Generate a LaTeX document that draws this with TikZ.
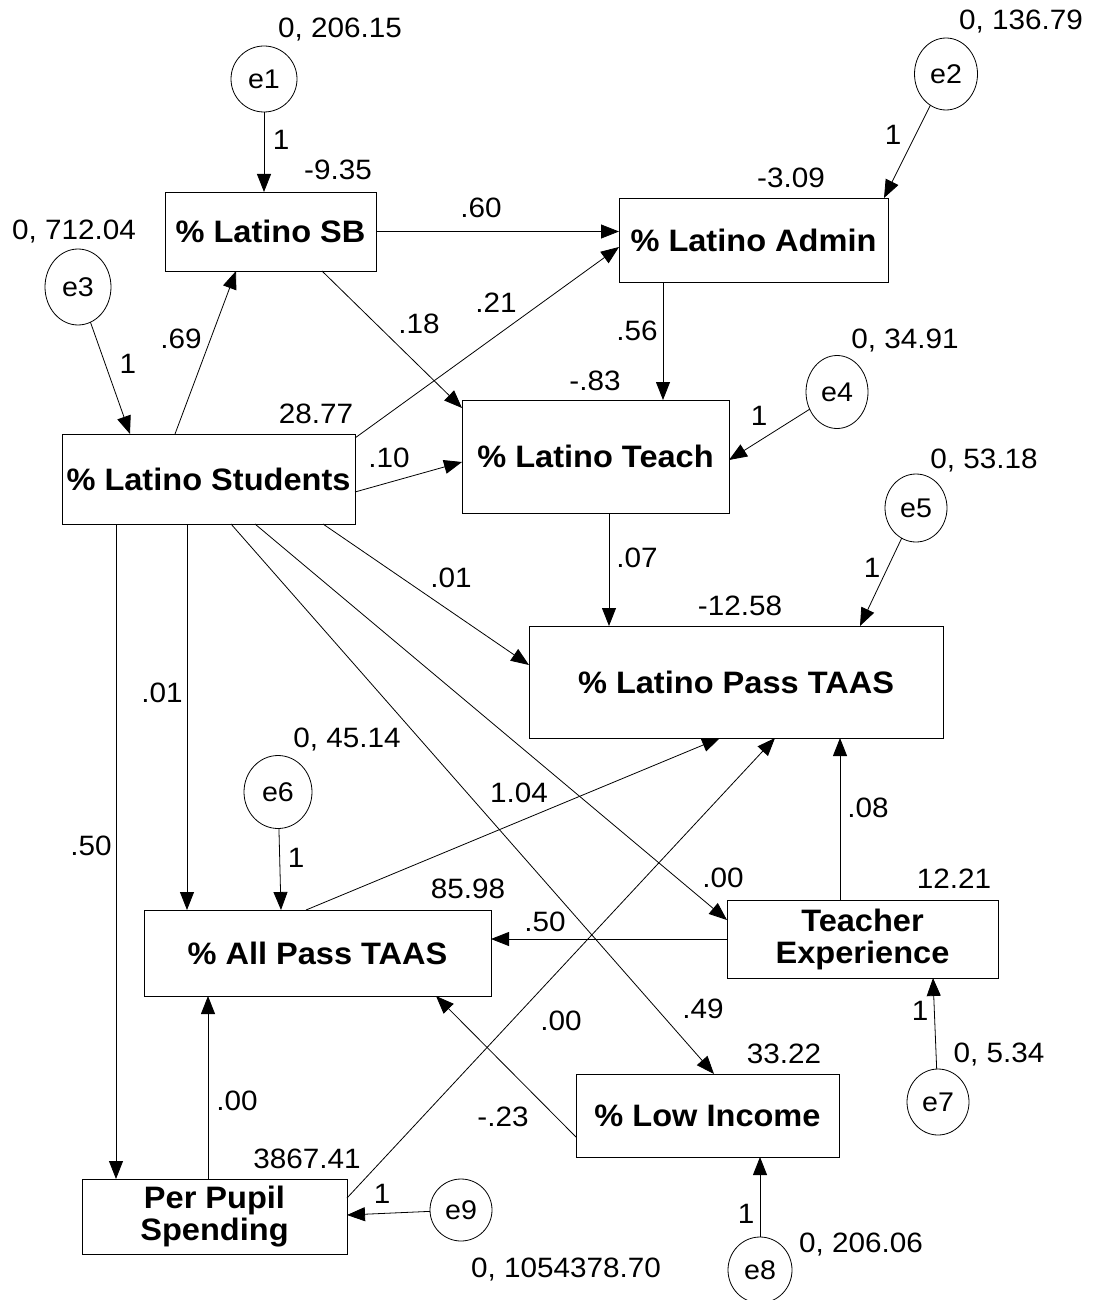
\documentclass[tikz,border=0pt]{standalone}
\usepackage{fontspec}
\setmainfont{Liberation Sans}
\newfontfamily\lblfont[FakeStretch=1.06]{Liberation Sans}
\newfontfamily\boxfont[FakeStretch=1.05]{Liberation Sans}
\usetikzlibrary{arrows.meta,shapes.geometric,calc}
\tikzset{
  box/.style={draw, line width=0.8pt, inner sep=0pt, outer sep=0pt, align=center,
    font=\boxfont\bfseries\fontsize{31}{32}\selectfont},
  err/.style={draw, ellipse, line width=0.8pt, inner sep=0pt, outer sep=0pt,
    font=\lblfont\fontsize{27}{30}\selectfont},
  arr/.style={line width=0.8pt, -{Triangle[length=18pt,width=14pt]}},
  lbl/.style={inner sep=0pt, font=\lblfont\fontsize{28}{30}\selectfont,
    text height=20pt, text depth=0pt},
}
\begin{document}
\begin{tikzpicture}[x=1pt,y=-1pt]
\useasboundingbox (0,0) rectangle (1093,1300);

% boxes
\node[box, minimum width=211pt, minimum height=79pt] (sb) at (270.5,231.5) {\% Latino SB};
\node[box, minimum width=269pt, minimum height=84pt] (admin) at (753.5,240) {\% Latino Admin};
\node[box, minimum width=293pt, minimum height=90pt] (ls) at (208.5,479) {\% Latino Students};
\node[box, minimum width=267pt, minimum height=113pt] (teach) at (595.5,456.5) {\% Latino Teach};
\node[box, minimum width=414pt, minimum height=112pt] (lpt) at (736,682) {\% Latino Pass TAAS};
\node[box, minimum width=347pt, minimum height=86pt] (allp) at (317.5,953) {\% All Pass TAAS};
\node[box, minimum width=271pt, minimum height=78pt] (te) at (862.5,939) {Teacher\\Experience};
\node[box, minimum width=263pt, minimum height=83pt] (li) at (707.5,1115.5) {\% Low Income};
\node[box, minimum width=265pt, minimum height=75pt] (pp) at (214.5,1216.5) {Per Pupil\\Spending};

% error terms
\node[err, minimum width=66pt, minimum height=66pt] (e1) at (264,79) {e1};
\node[err, minimum width=63pt, minimum height=72pt] (e2) at (946,74) {e2};
\node[err, minimum width=66pt, minimum height=76pt] (e3) at (78,287) {e3};
\node[err, minimum width=62pt, minimum height=73pt] (e4) at (837,392) {e4};
\node[err, minimum width=62pt, minimum height=68pt] (e5) at (916,508) {e5};
\node[err, minimum width=68pt, minimum height=73pt] (e6) at (278,792) {e6};
\node[err, minimum width=62pt, minimum height=66pt] (e7) at (938,1102) {e7};
\node[err, minimum width=64pt, minimum height=66pt] (e8) at (760,1270) {e8};
\node[err, minimum width=62pt, minimum height=62pt] (e9) at (461,1210) {e9};

% helper coordinates on borders
\coordinate (a1) at ([xshift=99pt]sb.north west);
\coordinate (a2) at ([xshift=-4pt]admin.north east);
\coordinate (a4s) at ([xshift=113pt]ls.north west);
\coordinate (a4e) at ([xshift=71pt]sb.south west);
\coordinate (a5) at ([xshift=68pt]ls.north west);
\coordinate (a6s) at ([xshift=157pt]sb.south west);
\coordinate (a6e) at ([yshift=-8pt]teach.north west);
\coordinate (a7s) at ([yshift=-4pt]ls.north east);
\coordinate (a7e) at ([yshift=-7pt]admin.west);
\coordinate (a8s) at ([yshift=-13pt]ls.east);
\coordinate (a8e) at ([yshift=-5.5pt]teach.west);
\coordinate (a9) at ([xshift=44pt]admin.south west);
\coordinate (a10) at ([yshift=-3.5pt]teach.east);
\coordinate (a11) at ([xshift=147pt]teach.south west);
\coordinate (a12) at ([xshift=331pt]lpt.north west);
\coordinate (a13s) at ([xshift=261pt]ls.south west);
\coordinate (a13e) at ([yshift=17pt]lpt.west);
\coordinate (a14) at ([xshift=125pt]ls.south west);
\coordinate (a15) at ([xshift=54pt]ls.south west);
\coordinate (a16s) at ([xshift=169pt]ls.south west);
\coordinate (a16e) at ([xshift=138pt]li.north west);
\coordinate (a17s) at ([xshift=193pt]ls.south west);
\coordinate (a17e) at ([yshift=19pt]te.west);
\coordinate (a18) at ([xshift=137pt]allp.north west);
\coordinate (a19s) at ([xshift=162pt]allp.north west);
\coordinate (a19e) at ([xshift=191pt]lpt.south west);
\coordinate (a21) at ([xshift=113pt]te.north west);
\coordinate (a22) at ([xshift=206pt]te.south west);
\coordinate (a23) at ([xshift=126pt]pp.north west);
\coordinate (a24s) at ([yshift=-21.5pt]li.west);
\coordinate (a24e) at ([xshift=292pt]allp.south west);
\coordinate (a25s) at ([yshift=18.5pt]pp.east);
\coordinate (a25e) at ([xshift=246pt]lpt.south west);
\coordinate (a26) at ([xshift=184pt]li.south west);
\coordinate (a27) at ([yshift=1.5pt]pp.east);

% paths
\draw[arr] (e1) -- (a1);
\draw[arr] (e2) -- (a2);
\draw[arr] (sb.east) -- (sb.east -| admin.west);
\draw[arr] (a4s) -- (a4e);
\draw[arr] (e3) -- (a5);
\draw[arr] (a6s) -- (a6e);
\draw[arr] (a7s) -- (a7e);
\draw[arr] (a8s) -- (a8e);
\draw[arr] (a9) -- (a9 |- teach.north);
\draw[arr] (e4) -- (a10);
\draw[arr] (a11) -- (a11 |- lpt.north);
\draw[arr] (e5) -- (a12);
\draw[arr] (a13s) -- (a13e);
\draw[arr] (a14) -- (a14 |- allp.north);
\draw[arr] (a15) -- (a15 |- pp.north);
\draw[arr] (a16s) -- (a16e);
\draw[arr] (a17s) -- (a17e);
\draw[arr] (e6) -- (a18);
\draw[arr] (a19s) -- (a19e);
\draw[arr] (te.west) -- (te.west -| allp.east);
\draw[arr] (a21) -- (a21 |- lpt.south);
\draw[arr] (e7) -- (a22);
\draw[arr] (a23) -- (a23 |- allp.south);
\draw[arr] (a24s) -- (a24e);
\draw[arr] (a25s) -- (a25e);
\draw[arr] (e8) -- (a26);
\draw[arr] (e9) -- (a27);

% labels
\node[lbl] (t1) at (340,28) {0, 206.15};
\node[lbl] (t2) at (338,170) {-9.35};
\node[lbl] (t3) at (281,140) {1};
\node[lbl] (t4) at (74,229) {0, 712.04};
\node[lbl] (t5) at (481,208) {.60};
\node[lbl] (t6) at (181,338) {.69};
\node[lbl] (t7) at (128,363) {1};
\node[lbl] (t8) at (419,323) {.18};
\node[lbl] (t9) at (496,302) {.21};
\node[lbl] (t10) at (316,413) {28.77};
\node[lbl] (t11) at (389,457) {.10};
\node[lbl] (t12) at (1021,20) {0, 136.79};
\node[lbl] (t13) at (893,135) {1};
\node[lbl] (t14) at (791,178) {-3.09};
\node[lbl] (t15) at (637,330) {.56};
\node[lbl] (t16) at (595,380) {-.83};
\node[lbl] (t17) at (905,338) {0, 34.91};
\node[lbl] (t18) at (759,415) {1};
\node[lbl] (t19) at (984,458) {0, 53.18};
\node[lbl] (t20) at (637,557) {.07};
\node[lbl] (t21) at (872,567) {1};
\node[lbl] (t22) at (740,605) {-12.58};
\node[lbl] (t23) at (451,577) {.01};
\node[lbl] (t24) at (162,692) {.01};
\node[lbl] (t25) at (91,845) {.50};
\node[lbl] (t26) at (347,737) {0, 45.14};
\node[lbl] (t27) at (296,857) {1};
\node[lbl] (t28) at (519,792) {1.04};
\node[lbl] (t29) at (468,888) {85.98};
\node[lbl] (t30) at (545,921) {.50};
\node[lbl] (t31) at (868,807) {.08};
\node[lbl] (t32) at (723,877) {.00};
\node[lbl] (t33) at (954,878) {12.21};
\node[lbl] (t34) at (561,1020) {.00};
\node[lbl] (t35) at (703,1008) {.49};
\node[lbl] (t36) at (784,1053) {33.22};
\node[lbl] (t37) at (920,1010) {1};
\node[lbl] (t38) at (999,1052) {0, 5.34};
\node[lbl] (t39) at (237,1100) {.00};
\node[lbl] (t40) at (503,1116) {-.23};
\node[lbl] (t41) at (307,1158) {3867.41};
\node[lbl] (t42) at (382,1193) {1};
\node[lbl] (t43) at (566,1267) {0, 1054378.70};
\node[lbl] (t44) at (746,1213) {1};
\node[lbl] (t45) at (861,1242) {0, 206.06};
\end{tikzpicture}
\end{document}
